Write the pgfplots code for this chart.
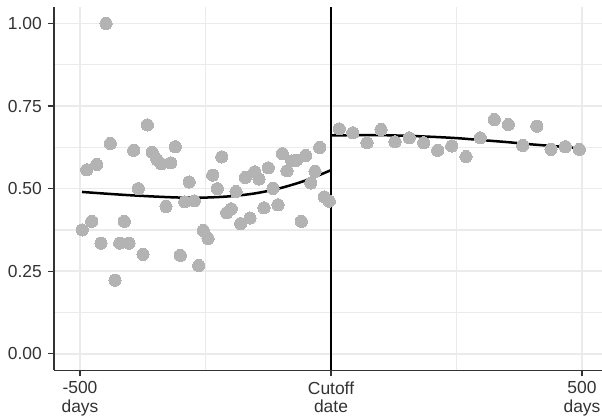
\documentclass[border=0pt]{standalone}
\usepackage{fontspec}
\setmainfont{Liberation Sans}
\usepackage{pgfplots}
\pgfplotsset{compat=1.18}
\definecolor{ptc}{HTML}{B3B3B3}
\definecolor{gridc}{HTML}{EBEBEB}
\definecolor{axc}{HTML}{333333}
\begin{document}
\begin{tikzpicture}
\begin{axis}[
  scale only axis,
  width=548bp, height=363.3bp,
  xmin=-551.8, xmax=539.8,
  ymin=-0.05, ymax=1.05,
  axis x line=bottom, axis y line=left,
  axis line style={-, color=axc, line width=1.3bp},
  xtick={-500,0,500},
  xticklabels={{-500\\days},{Cutoff\\date},{500\\days}},
  ytick={0,0.25,0.5,0.75,1},
  yticklabels={0.00,0.25,0.50,0.75,1.00},
  minor xtick={-250,250},
  minor ytick={0.125,0.375,0.625,0.875},
  grid=both,
  major grid style={color=gridc, line width=1.6bp},
  minor grid style={color=gridc, line width=1.2bp},
  tick align=outside,
  major tick length=6bp,
  minor tick length=0pt,
  tick style={color=axc, line width=1.3bp},
  tick label style={font=\fontsize{17.5}{18.5}\selectfont, text=axc},
  xticklabel style={align=center, inner sep=0pt, yshift=-5bp},
  yticklabel style={inner sep=0pt, xshift=-6bp},
  clip=false,
]
\addplot[only marks, color=ptc, mark=*, mark size=6.1bp, mark options={fill=ptc, draw=ptc, line width=0pt}] coordinates {
(-495.4,0.375) (-486.6,0.557) (-476.7,0.401) (-466.7,0.573) (-458.2,0.335)
(-448.2,1.000) (-439.6,0.637) (-430.3,0.223) (-420.9,0.335) (-411.8,0.401)
(-402.4,0.335) (-393.0,0.616) (-383.9,0.500) (-374.5,0.301) (-365.9,0.693)
(-356.0,0.610) (-346.6,0.588) (-338.0,0.575) (-328.7,0.446) (-319.3,0.578)
(-310.2,0.627) (-300.2,0.298) (-291.4,0.460) (-282.3,0.520) (-272.3,0.463)
(-263.5,0.267) (-254.4,0.373) (-245.0,0.349) (-235.7,0.541) (-226.5,0.500)
(-217.7,0.596) (-207.8,0.427) (-198.6,0.439) (-189.2,0.491) (-179.9,0.394)
(-170.7,0.534) (-161.4,0.411) (-152.0,0.551) (-143.4,0.529) (-133.5,0.442)
(-124.9,0.563) (-115.5,0.501) (-105.6,0.451) (-97.0,0.606) (-87.6,0.554)
(-78.3,0.584) (-69.1,0.586) (-59.2,0.401) (-50.4,0.600) (-40.4,0.517)
(-31.9,0.552) (-22.5,0.625) (-13.3,0.475) (-3.4,0.462)
(16.5,0.681) (43.2,0.669) (71.7,0.639) (99.6,0.679) (127.5,0.642)
(156.0,0.654) (184.7,0.639) (212.5,0.616) (240.4,0.629) (268.9,0.597)
(297.4,0.654) (325.3,0.709) (353.2,0.694) (381.9,0.631) (409.8,0.689)
(438.2,0.619) (466.7,0.627) (494.6,0.619)
};
\addplot[black, line width=2.5bp, smooth, no marks] coordinates {
(-496,0.490) (-450,0.485) (-400,0.480) (-350,0.476) (-300,0.473)
(-250,0.473) (-200,0.477) (-150,0.486) (-100,0.502) (-50,0.525) (0,0.556)
};
\addplot[black, line width=2.5bp, smooth, no marks] coordinates {
(0,0.661) (50,0.662) (100,0.662) (150,0.660) (200,0.657) (250,0.653)
(300,0.647) (350,0.641) (400,0.634) (450,0.628) (495,0.622)
};
\addplot[black, line width=2bp, no marks] coordinates {(0,-0.05) (0,1.05)};
\end{axis}
\pgfresetboundingbox
\path ([shift={(-54bp,-46bp)}]current axis.south west) rectangle ([shift={(0bp,7bp)}]current axis.north east);
\end{tikzpicture}
\end{document}
